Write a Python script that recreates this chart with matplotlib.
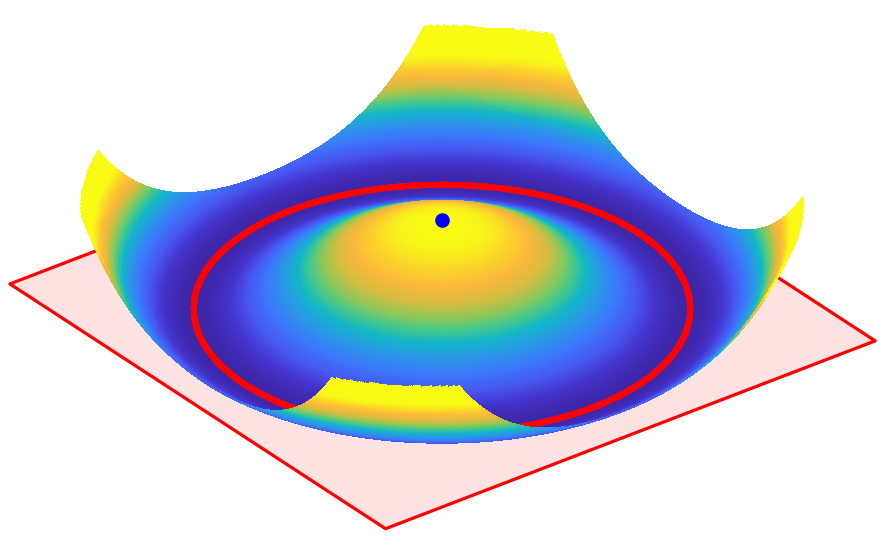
"""Mexican-hat surface over a pink square, with the well ring and the top point."""

import matplotlib

matplotlib.use("Agg")
import matplotlib.pyplot as plt
import numpy as np
from matplotlib.colors import LinearSegmentedColormap
from mpl_toolkits.mplot3d.art3d import Poly3DCollection

# geometry, in units of the ring radius
RING_RADIUS = 1.0
HAT_HEIGHT = 0.385
DOT_Z = 0.414
SURFACE_HALF = 1.195
SURFACE_RMAX = 1.452
PLANE_HALF = 1.243
PLANE_Z = -0.014
Z_TOP = 0.52

plane_x = [-PLANE_HALF, PLANE_HALF, PLANE_HALF, -PLANE_HALF]
plane_y = [-PLANE_HALF, -PLANE_HALF, PLANE_HALF, PLANE_HALF]

# colormap stops, sampled by eye from the surface
cmap_levels = [0.0, 0.07, 0.15, 0.25, 0.35, 0.44, 0.52, 0.59, 0.68, 0.77, 0.85, 0.95, 1.0]
cmap_colors = [
    "#3e26a8", "#4433cc", "#4756f0", "#3b78fb", "#2a98e6", "#10b6c8", "#46c88a",
    "#8cc85a", "#d6bc40", "#fbb83c", "#fbd02a", "#f8f51a", "#f9fb15",
]
parula = LinearSegmentedColormap.from_list("parula_like", list(zip(cmap_levels, cmap_colors)))


def hat(x, y):
    # the plotted object is a mathematical surface, so its grid comes from its
    # equation; the constants above are what was estimated from the picture
    r2 = x**2 + y**2
    return HAT_HEIGHT * (r2 / RING_RADIUS**2 - 1.0) ** 2


def quads(grid, keep):
    x, y = grid
    z = hat(x, y)
    v = np.stack([x, y, z], axis=-1)
    polys = np.stack([v[:-1, :-1], v[:-1, 1:], v[1:, 1:], v[1:, :-1]], axis=2)
    return polys[keep]


def add_surface(ax, grid, keep, zorder):
    polys = quads(grid, keep)
    colors = parula(np.clip(polys[:, :, 2].mean(axis=1) / HAT_HEIGHT, 0, 1))
    coll = Poly3DCollection(
        polys,
        facecolors=colors,
        edgecolors=colors,
        linewidths=0.3,
        antialiaseds=False,
        zorder=zorder,
    )
    ax.add_collection3d(coll)


fig = plt.figure(figsize=(8.81, 5.41), dpi=100)
# big square axes so nothing gets clipped; its centre sets where the box lands
w = 1000
cx, cy = 428.5, 268.0
ax = fig.add_axes(
    [(cx - w / 2) / 881, (541 - cy - w / 2) / 541, w / 881, w / 541],
    projection="3d",
    computed_zorder=False,
)
ax.set_proj_type("ortho")
ax.view_init(elev=30, azim=-127.5)
ax.set_xlim(-PLANE_HALF, PLANE_HALF, view_margin=0)
ax.set_ylim(-PLANE_HALF, PLANE_HALF, view_margin=0)
ax.set_zlim(PLANE_Z, Z_TOP, view_margin=0)
ax.set_box_aspect((2 * PLANE_HALF, 2 * PLANE_HALF, Z_TOP - PLANE_Z), zoom=0.857)
ax.set_axis_off()

# plane under everything
plane = Poly3DCollection(
    [list(zip(plane_x, plane_y, [PLANE_Z] * 4))],
    facecolors="#ffe3e3",
    edgecolors="#ff0000",
    linewidths=2.3,
    antialiaseds=False,
    zorder=1,
)
ax.add_collection3d(plane)

n = 420
xs = np.linspace(-SURFACE_HALF, SURFACE_HALF, n)
gx, gy = np.meshgrid(xs, xs)
cx_q = 0.25 * (gx[:-1, :-1] + gx[:-1, 1:] + gx[1:, 1:] + gx[1:, :-1])
cy_q = 0.25 * (gy[:-1, :-1] + gy[:-1, 1:] + gy[1:, 1:] + gy[1:, :-1])
rq = np.hypot(cx_q, cy_q)
inside = rq <= SURFACE_RMAX

# the part of the wall nearer the viewer than the ring goes on after the ring
view_dir = np.array([np.cos(np.radians(-127.5)), np.sin(np.radians(-127.5))])
front = inside & (rq > RING_RADIUS * 1.04) & (cx_q * view_dir[0] + cy_q * view_dir[1] > 0)

add_surface(ax, (gx, gy), inside & ~front, 2)

theta = np.radians(np.arange(0, 361, 1.0))
ax.plot(
    RING_RADIUS * np.cos(theta),
    RING_RADIUS * np.sin(theta),
    np.zeros_like(theta),
    color="#ff0000",
    lw=4.0,
    antialiased=False,
    zorder=3,
)

add_surface(ax, (gx, gy), front, 4)

ax.plot(
    [0], [0], [DOT_Z],
    marker="o",
    color="#0000ff",
    markersize=9.5,
    linestyle="None",
    antialiased=False,
    zorder=5,
)

fig.savefig("out.png", dpi=100)
